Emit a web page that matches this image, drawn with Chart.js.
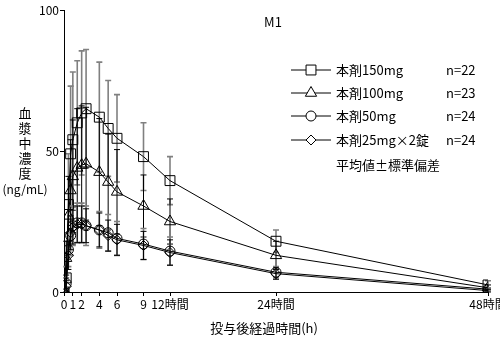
<!DOCTYPE html>
<html>
<head>
<meta charset="utf-8">
<script src="https://cdn.jsdelivr.net/npm/chart.js@4/dist/chart.umd.min.js"></script>
<style>
  html, body { margin: 0; padding: 0; background: #fff; }
  #wrap { width: 500px; height: 342px; }
</style>
</head>
<body>
<div id="wrap"><canvas id="m1-chart" width="500" height="342"></canvas></div>
<script>
const hours = [0, 0.25, 0.5, 0.75, 1, 1.5, 2, 2.5, 4, 5, 6, 9, 12, 24, 48];
const xTicks = [0, 1, 2, 4, 6, 9, 12, 24, 48];
const yTicks = [0, 50, 100];

const groupNames = ['本剤150mg', '本剤100mg', '本剤50mg', '本剤25mg×2錠'];
const groupN = ['n=22', 'n=23', 'n=24', 'n=24'];

const mean150 = [0, 5, 31, 49, 54, 60, 63.5, 65, 62, 58, 54.5, 48, 39.5, 18, 2.5];
const sd150 = [0, 4, 18, 24, 24, 22, 22, 21, 19.5, 17, 15.5, 12, 8.5, 4, 1.5];
const mean100 = [0, 12, 27, 36, 41, 44, 45, 45.5, 42.5, 39, 35.5, 30.5, 25, 13, 1.5];
const sd100 = [0, 6, 14, 18, 20, 21, 21, 20, 19, 17, 15, 11, 8, 5, 1];
const mean50 = [0, 3, 15, 20, 23.5, 24.5, 24.5, 23.5, 22, 21, 19, 17, 14.5, 7, 1];
const sd50 = [0, 2, 6, 7, 7, 7, 7, 7, 6.5, 6.5, 6, 5.5, 5, 2, 0.5];
const mean25x2 = [0, 2, 13, 21, 23, 24, 24, 23.5, 22, 20, 18.5, 16.5, 14, 6.5, 0.5];
const sd25x2 = [0, 2, 5, 6, 6, 6.5, 6.5, 6, 6, 5.5, 5.5, 5, 4.5, 2, 0.5];

const FONT = "'Noto Sans CJK JP', 'Noto Sans', sans-serif";

const toPoints = (ys) => ys.map((y, i) => ({ x: hours[i], y: y }));

const series = [
    { mean: mean150, sd: sd150, style: 'rect', radius: 7, barColor: '#808080', barWidth: 1.6 },
    { mean: mean100, sd: sd100, style: 'triangle', radius: 6.5, barColor: '#000', barWidth: 1 },
    { mean: mean50, sd: sd50, style: 'circle', radius: 5, barColor: '#808080', barWidth: 1.6 },
    { mean: mean25x2, sd: sd25x2, style: 'rectRot', radius: 5, barColor: '#000', barWidth: 1 },
];

// mean ± SD whiskers, drawn under the markers
const errorBars = {
    id: 'errorBars',
    beforeDatasetsDraw(chart) {
        const ctx = chart.ctx;
        const xs = chart.scales.x, ys = chart.scales.y;
        ctx.save();
        series.forEach(s => {
            ctx.strokeStyle = s.barColor;
            ctx.lineWidth = s.barWidth;
            s.mean.forEach((m, i) => {
                if (!s.sd[i]) return;
                const px = xs.getPixelForValue(hours[i]);
                const top = ys.getPixelForValue(m + s.sd[i]);
                const bot = ys.getPixelForValue(Math.max(0, m - s.sd[i]));
                ctx.beginPath();
                ctx.moveTo(px, top); ctx.lineTo(px, bot);
                ctx.moveTo(px - 3, top); ctx.lineTo(px + 3, top);
                ctx.moveTo(px - 3, bot); ctx.lineTo(px + 3, bot);
                ctx.stroke();
            });
        });
        ctx.restore();
    }
};

// title, axis titles and the legend block
const annotations = {
    id: 'annotations',
    afterDraw(chart) {
        const ctx = chart.ctx;
        ctx.save();
        ctx.fillStyle = '#000';
        ctx.textBaseline = 'middle';
        ctx.textAlign = 'center';

        ctx.font = '13px ' + FONT;
        ctx.fillText('M1', 273, 22);

        ctx.font = '13px ' + FONT;
        ['血', '漿', '中', '濃', '度'].forEach((c, i) => ctx.fillText(c, 25, 113 + i * 15));
        ctx.font = '12px ' + FONT;
        ctx.fillText('(ng/mL)', 25, 189);

        ctx.font = '13px ' + FONT;
        ctx.fillText('投与後経過時間(h)', 264, 328);

        // legend rows
        ctx.textAlign = 'left';
        ctx.font = '13px ' + FONT;
        const rowY = [70, 93, 116, 140];
        series.forEach((s, i) => {
            const y = rowY[i];
            ctx.strokeStyle = '#000';
            ctx.lineWidth = 1;
            ctx.beginPath();
            ctx.moveTo(291, y); ctx.lineTo(331, y);
            ctx.stroke();
            ctx.fillStyle = '#fff';
            Chart.helpers.drawPoint(ctx, { pointStyle: s.style, radius: s.radius, borderWidth: 1, rotation: 0 }, 311, y);
            ctx.fillStyle = '#000';
            ctx.fillText(groupNames[i], 336, y);
            ctx.fillText(groupN[i], 446, y);
        });
        ctx.fillText('平均値±標準偏差', 336, 165);
        ctx.restore();
    }
};

new Chart(document.getElementById('m1-chart'), {
    type: 'line',
    data: {
        datasets: series.map((s, i) => ({
            label: groupNames[i],
            data: toPoints(s.mean),
            borderColor: '#000',
            borderWidth: 1,
            backgroundColor: 'rgba(0,0,0,0)',
            pointStyle: s.style,
            pointRadius: s.radius,
            pointBorderColor: '#000',
            pointBorderWidth: 1,
            pointBackgroundColor: 'rgba(0,0,0,0)',
            tension: 0,
        }))
    },
    options: {
        responsive: false,
        animation: false,
        devicePixelRatio: 1,
        layout: { padding: { top: 10, right: 12, left: 0, bottom: 0 } },
        plugins: { legend: { display: false }, tooltip: { enabled: false } },
        scales: {
            x: {
                type: 'linear',
                min: 0,
                max: 48,
                afterBuildTicks: (scale) => { scale.ticks = xTicks.map(v => ({ value: v })); },
                afterFit: (scale) => { scale.height = 50; scale.paddingLeft = 0; scale.paddingRight = 0; },
                grid: { drawOnChartArea: false, drawTicks: true, tickLength: 4, color: '#000' },
                border: { color: '#000', width: 1 },
                ticks: {
                    autoSkip: false,
                    maxRotation: 0,
                    padding: 1,
                    color: '#000',
                    font: { family: FONT, size: 12 },
                    callback: (v) => v >= 12 ? v + '時間' : String(v)
                }
            },
            y: {
                min: 0,
                max: 100,
                afterBuildTicks: (scale) => { scale.ticks = yTicks.map(v => ({ value: v })); },
                afterFit: (scale) => { scale.width = 64; scale.paddingTop = 0; scale.paddingBottom = 0; },
                grid: { drawOnChartArea: false, drawTicks: true, tickLength: 4, color: '#000' },
                border: { color: '#000', width: 1 },
                ticks: {
                    padding: 1,
                    color: '#000',
                    font: { family: FONT, size: 12 }
                }
            }
        }
    },
    plugins: [errorBars, annotations]
});
</script>
</body>
</html>
